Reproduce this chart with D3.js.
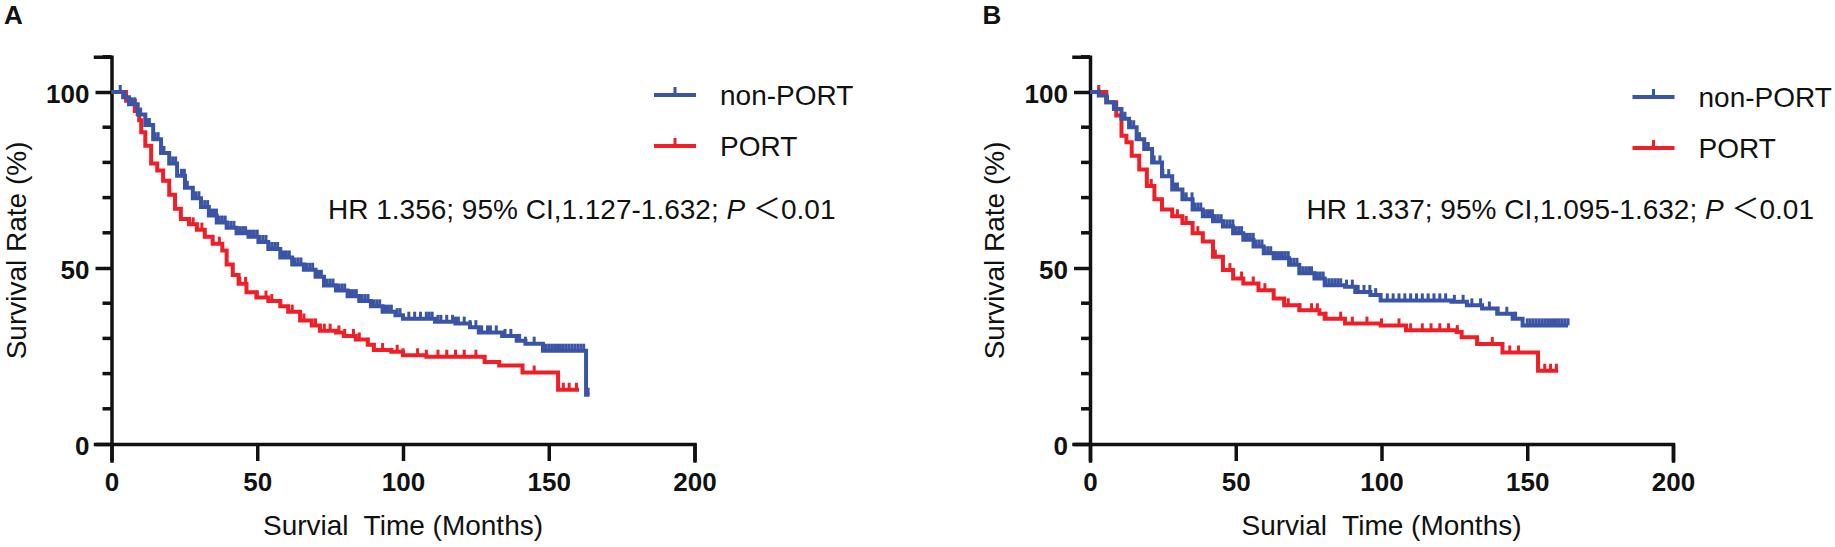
<!DOCTYPE html>
<html>
<head>
<meta charset="utf-8">
<script src="https://cdn.jsdelivr.net/npm/d3@7/dist/d3.min.js"></script>
<style>
body { margin: 0; background: #fff; }
text { font-family: "Liberation Sans", Arial, sans-serif; fill: #111; }
</style>
</head>
<body>
<div id="chart"></div>
<script>
var groupNames = ["non-PORT", "PORT"];
var groupColors = ["#3a54a6", "#ee1f27"];
var xTickValues = [0, 50, 100, 150, 200];
var yTickValues = [0, 50, 100];
var yMinorValues = [10, 20, 30, 40, 60, 70, 80, 90, 110];

// panel A
var aBlueTime = [0, 4, 6, 9, 11.6, 14.3, 17, 19.8, 22.5, 25.2, 27.9, 30.7, 33.4, 36.1, 39.5, 42.9, 47, 50.4, 53.8, 57.9, 62, 66, 70, 72.9, 77, 81, 85, 89, 93, 97.4, 100, 107, 111, 118, 123, 126, 134, 139, 142, 148, 162.8, 164];
var aBlueSurv = [100, 98.5, 96.5, 93.6, 90.6, 86.6, 82.7, 79.7, 76.2, 72.8, 69.8, 67.3, 64.9, 62.9, 61.4, 59.9, 58.9, 57.4, 55.4, 53, 51, 49.5, 47.5, 45, 43.6, 42, 40.6, 39.1, 37.6, 36.6, 35.6, 35.6, 34.7, 34.2, 33.2, 31.7, 30.7, 29.3, 28.5, 26.5, 14, 14];
var aBlueCensor = [3, 4.5, 7, 8, 10, 12, 13, 15, 16, 18, 20, 21, 22, 24, 25, 26, 28, 29, 30, 31, 32, 33, 34, 35, 36, 37, 38, 39, 40, 41, 42, 43, 44, 45, 46, 47, 48, 49, 50, 51, 52, 53, 54, 55, 56, 57, 58, 59, 60, 61, 62, 63, 64, 65, 66, 67, 68, 69, 70, 71, 72, 73, 74, 75, 76, 77, 78, 79, 80, 81, 82, 83, 84, 85, 86, 87, 88, 89, 90, 91, 92, 93, 94, 95, 96, 98, 99, 102, 104, 106, 108, 109, 110, 112, 113, 115, 117, 118, 119, 121, 123, 125, 127, 129, 130, 132, 135, 137, 140, 142, 145, 148, 149, 150, 151, 152, 153, 154, 155, 156, 157, 158, 159, 160, 161, 162, 163.5];
var aRedTime = [0, 5, 8, 9.5, 10.2, 11.6, 13.6, 15.7, 17.7, 19.8, 21.8, 23.8, 26.6, 29.3, 32, 34.7, 38, 39.5, 41.6, 43.6, 46.3, 49.7, 53.8, 57.9, 60.6, 64.7, 68.7, 71.5, 77, 79.7, 83.8, 87.9, 90, 96, 100, 108, 128, 133, 141, 153.2, 160.4];
var aRedSurv = [100, 97.5, 94.6, 92, 88.6, 84.7, 79.7, 77.7, 74.8, 70.8, 66.8, 63.9, 62.4, 60.9, 58.9, 56.9, 55, 51, 48, 45.5, 43.1, 41.6, 40.6, 39.1, 37.6, 35.1, 33.7, 32.2, 31.7, 30.7, 29.7, 28.2, 26.7, 26.2, 25.2, 24.8, 23.3, 22.3, 20.3, 15.4, 15.4];
var aRedCensor = [28, 31, 37, 44, 46, 50, 53, 55, 58, 62, 66, 70, 73, 75, 78, 80, 83, 85, 88, 90, 93, 98, 100, 105, 108, 112, 115, 118, 121, 125, 128, 145, 155, 157, 159.5];

// panel B
var bBlueTime = [0, 3, 5.6, 8.2, 10.8, 13.4, 16, 18.6, 21.3, 24.7, 28.2, 31.7, 35.2, 38.7, 42.2, 45.6, 49.1, 52.6, 56.1, 59.6, 63, 68.3, 71.8, 77, 80.5, 87.5, 91, 96.2, 99.7, 120.6, 124, 129.3, 134.5, 139.7, 145, 148.4, 164];
var bBlueSurv = [100, 99, 97.1, 95.2, 92.4, 90, 86.6, 83.8, 80, 76.1, 72.3, 69.5, 66.6, 64.7, 63.3, 61.8, 59.9, 58, 56.1, 54.2, 52.8, 50.9, 48.5, 47, 45.1, 44.7, 43.2, 42.3, 40.8, 40.8, 40.4, 39.4, 38.5, 37, 35.6, 33.7, 33.7];
var bBlueCensor = [3, 6, 9, 11, 12, 14, 15, 17, 19, 20, 22, 24, 25, 27, 29, 30, 32, 33, 35, 36, 37, 38, 39, 40, 41, 42, 43, 44, 45, 46, 47, 48, 49, 50, 51, 52, 53, 54, 55, 56, 57, 58, 59, 60, 61, 62, 63, 64, 65, 66, 67, 68, 69, 70, 71, 72, 73, 74, 75, 76, 77, 78, 79, 80, 81, 82, 83, 84, 85, 86, 88, 90, 92, 94, 96, 98, 102, 104, 106, 108, 110, 112, 114, 116, 118, 120, 122, 125, 128, 131, 134, 137, 140, 143, 146, 150, 151, 152, 153, 154, 155, 156, 157, 158, 159, 160, 161, 162, 163, 164];
var bRedTime = [0, 5.6, 9, 10.8, 12.5, 14.3, 16.9, 19.5, 22.1, 24.7, 28.2, 31.7, 35.2, 38.7, 42.2, 45.6, 49.1, 52.6, 57.8, 63, 66.6, 71.8, 78.7, 80.5, 87.5, 99.7, 108.4, 125.8, 127.5, 132.8, 141.5, 153.7, 160.6];
var bRedSurv = [100, 97.1, 93.3, 87.6, 85.7, 81.9, 78, 73.3, 69.5, 66.6, 64.7, 62.8, 59.9, 57.5, 53.2, 49.4, 47, 45.6, 43.7, 41.3, 39.4, 38, 37, 35.6, 34.2, 33.7, 32.3, 31.8, 30.3, 28.4, 26, 20.8, 20.8];
var bRedCensor = [3, 21, 30, 33, 37, 43, 48, 52, 56, 60, 63, 68, 72, 76, 78, 81, 86, 90, 95, 100, 106, 110, 114, 117, 120, 123, 126, 138, 144, 147, 156, 158, 160];

function KMPanel(svg, series, options) {

    var left = options.left,
        top = options.top,
        bottom = options.bottom,
        plotWidth = options.plot_width,
        label = options.label,
        stats = options.stats;

    var x = d3.scaleLinear().domain([0, 200]).range([left, left + plotWidth]);
    var y = d3.scaleLinear().domain([0, 110]).range([bottom, top]);

    var g = svg.append("g").attr("class", "panel");

    // axes
    var xAxis = g.append("g")
        .attr("transform", "translate(0," + bottom + ")")
        .call(d3.axisBottom(x).tickValues(xTickValues).tickSize(17).tickPadding(12).tickFormat(d3.format("d")));

    var yAxis = g.append("g")
        .attr("transform", "translate(" + left + ",0)")
        .call(d3.axisLeft(y).tickValues(yTickValues).tickSize(16).tickPadding(6).tickFormat(d3.format("d")));

    g.append("g")
        .attr("transform", "translate(" + left + ",0)")
        .selectAll("line")
        .data(yMinorValues)
        .enter().append("line")
        .attr("x1", 0)
        .attr("x2", -9)
        .attr("y1", function (d) { return y(d); })
        .attr("y2", function (d) { return y(d); });

    g.selectAll(".domain, .tick line, g > line")
        .style("stroke", "#111")
        .style("stroke-width", "3.5px");
    g.selectAll(".domain").attr("stroke-linecap", "square");

    g.selectAll(".tick text")
        .style("font-size", "26px")
        .style("font-weight", "bold")
        .style("fill", "#111");
    yAxis.selectAll(".tick text").attr("dy", "0.42em");

    // curves
    var line = d3.line()
        .curve(d3.curveStepAfter)
        .x(function (d) { return x(d[0]); })
        .y(function (d) { return y(d[1]); });

    series.slice().reverse().forEach(function (s) {
        var pts = s.time.map(function (t, i) { return [t, s.surv[i]]; });
        g.append("path")
            .datum(pts)
            .attr("fill", "none")
            .attr("stroke", s.color)
            .attr("stroke-width", 4)
            .attr("d", line);

        g.selectAll(null)
            .data(s.censor)
            .enter().append("line")
            .attr("stroke", s.color)
            .attr("stroke-width", 3)
            .attr("x1", function (d) { return x(d); })
            .attr("x2", function (d) { return x(d); })
            .attr("y1", function (d) { return y(s.surv[d3.bisectRight(s.time, d) - 1]); })
            .attr("y2", function (d) { return y(s.surv[d3.bisectRight(s.time, d) - 1]) - 7; });
    });

    // legend
    var legend = g.append("g").attr("class", "legend");
    series.forEach(function (s, i) {
        var ly = options.legend_y[i];
        var lx = left + 542.5;
        legend.append("line")
            .attr("x1", lx).attr("x2", lx + 42)
            .attr("y1", ly).attr("y2", ly)
            .attr("stroke", s.color)
            .attr("stroke-width", 4);
        legend.append("line")
            .attr("x1", lx + 21).attr("x2", lx + 21)
            .attr("y1", ly).attr("y2", ly - 8)
            .attr("stroke", s.color)
            .attr("stroke-width", 3);
        legend.append("text")
            .attr("x", left + 608.5)
            .attr("y", ly + 10)
            .style("font-size", "28px")
            .text(s.name);
    });

    // HR text
    var hr = g.append("text")
        .attr("x", left + 216.5)
        .attr("y", 219)
        .style("font-size", "28px");
    hr.append("tspan").text(stats + " ");
    hr.append("tspan").style("font-style", "italic").text("P");
    hr.append("tspan").text(" ");
    hr.append("tspan").style("font-family", "'Noto Sans CJK SC'").text("\uFF1C");
    hr.append("tspan").text("0.01");

    // axis titles
    g.append("text")
        .attr("transform", "translate(" + (left - 86) + "," + ((top + bottom) / 2) + ") rotate(-90)")
        .attr("text-anchor", "middle")
        .style("font-size", "28px")
        .text("Survival Rate (%)");

    g.append("text")
        .attr("x", left + plotWidth / 2)
        .attr("y", 535)
        .attr("text-anchor", "middle")
        .style("font-size", "28px")
        .text("Survial\u00a0 Time (Months)");

    g.append("text")
        .attr("x", left - 107.5)
        .attr("y", 24)
        .style("font-size", "26px")
        .style("font-weight", "bold")
        .text(label);
}

var svg = d3.select("#chart").append("svg")
    .attr("width", 1835)
    .attr("height", 547);

KMPanel(svg, [
    { name: groupNames[0], color: groupColors[0], time: aBlueTime, surv: aBlueSurv, censor: aBlueCensor },
    { name: groupNames[1], color: groupColors[1], time: aRedTime, surv: aRedSurv, censor: aRedCensor }
], {
    left: 111.5, top: 56.8, bottom: 444, plot_width: 583,
    label: "A", stats: "HR 1.356; 95% CI,1.127-1.632;", legend_y: [95, 146]
});

KMPanel(svg, [
    { name: groupNames[0], color: groupColors[0], time: bBlueTime, surv: bBlueSurv, censor: bBlueCensor },
    { name: groupNames[1], color: groupColors[1], time: bRedTime, surv: bRedSurv, censor: bRedCensor }
], {
    left: 1090, top: 56.8, bottom: 444, plot_width: 583,
    label: "B", stats: "HR 1.337; 95% CI,1.095-1.632;", legend_y: [97, 148]
});
</script>
</body>
</html>
